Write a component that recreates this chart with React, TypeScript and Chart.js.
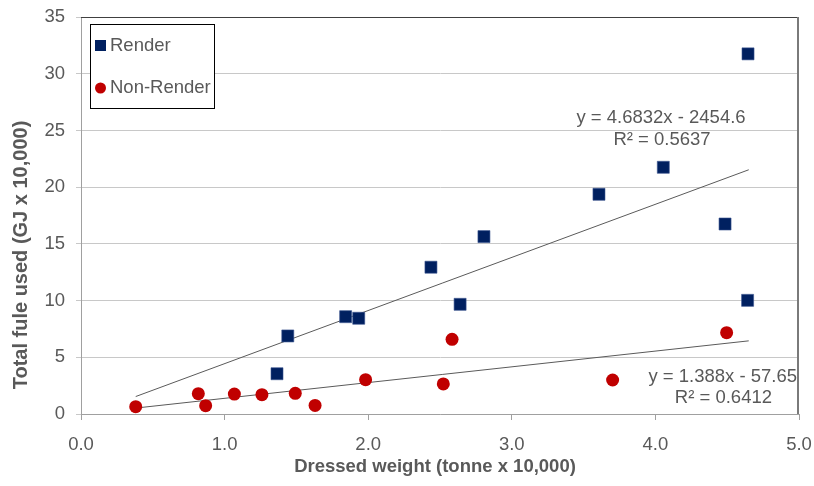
import React, { useEffect, useRef } from "react";
import { Chart, registerables } from "chart.js";

Chart.register(...registerables);

const renderX = [1.365, 1.44, 1.843, 1.934, 2.437, 2.64, 2.806, 3.607, 4.055, 4.485, 4.642, 4.645];
const renderY = [3.55, 6.88, 8.58, 8.44, 12.94, 9.67, 15.64, 19.37, 21.75, 16.75, 10.02, 31.75];
const nonRenderX = [0.381, 0.817, 0.868, 1.068, 1.26, 1.492, 1.63, 1.982, 2.523, 2.584, 3.702, 4.496];
const nonRenderY = [0.65, 1.79, 0.73, 1.76, 1.7, 1.82, 0.76, 3.03, 2.65, 6.58, 3.0, 7.17];

// trendline coefficients (display units: x10,000)
const renderTrend = { slope: 4.6832, intercept: -0.24546 };
const nonRenderTrend = { slope: 1.388, intercept: -0.005765 };
const trendRange = [0.381, 4.65];

const seriesNames = ["Render", "Non-Render"];
const eqLabels = ["y = 4.6832x - 2454.6", "R\u00b2 = 0.5637", "y = 1.388x - 57.65", "R\u00b2 = 0.6412"];
const xTitle = "Dressed weight (tonne x 10,000)";
const yTitle = "Total fule used (GJ x 10,000)";

const NAVY = "#002060";
const RED = "#C00000";
const TEXT = "#595959";
const FONT = "'Liberation Sans', Arial, sans-serif";
const FS = 18.5;

export default function App() {
  const ref = useRef<HTMLCanvasElement>(null);
  useEffect(() => {
    document.body.style.margin = "0";
    const line = (t: { slope: number; intercept: number }) =>
      trendRange.map((x) => ({ x, y: t.slope * x + t.intercept }));

    const overlay = {
      id: "overlay",
      afterDraw(chart: any) {
        const ctx = chart.ctx;
        const a = chart.chartArea;
        ctx.save();
        // top & right border
        ctx.strokeStyle = "#404040";
        ctx.lineWidth = 1;
        ctx.beginPath();
        ctx.moveTo(a.left, a.top + 0.5);
        ctx.lineTo(a.right, a.top + 0.5);
        ctx.stroke();
        ctx.strokeStyle = "#7a7a7a";
        ctx.lineWidth = 2;
        ctx.beginPath();
        ctx.moveTo(a.right - 1, a.top);
        ctx.lineTo(a.right - 1, a.bottom);
        ctx.stroke();
        // legend
        ctx.fillStyle = "#fff";
        ctx.fillRect(90, 24, 124, 84);
        ctx.strokeStyle = "#000";
        ctx.lineWidth = 1;
        ctx.strokeRect(90.5, 24.5, 124, 84);
        ctx.fillStyle = NAVY;
        ctx.fillRect(95, 40, 11, 11);
        ctx.fillStyle = RED;
        ctx.beginPath();
        ctx.arc(100.5, 88, 5.5, 0, Math.PI * 2);
        ctx.fill();
        ctx.fillStyle = TEXT;
        ctx.font = `${FS}px ${FONT}`;
        ctx.textBaseline = "middle";
        ctx.textAlign = "left";
        ctx.fillText(seriesNames[0], 110, 46);
        ctx.fillText(seriesNames[1], 110, 88);
        // equations
        ctx.textAlign = "center";
        ctx.fillText(eqLabels[0], 661, 118);
        ctx.fillText(eqLabels[1], 662, 140);
        ctx.textAlign = "right";
        ctx.fillText(eqLabels[2], 797, 377);
        ctx.fillText(eqLabels[3], 772, 398);
        // axis titles
        ctx.font = `bold ${FS}px ${FONT}`;
        ctx.textAlign = "center";
        ctx.fillText(xTitle, 435, 467);
        ctx.font = `bold 20px ${FONT}`;
        ctx.translate(21, 255);
        ctx.rotate(-Math.PI / 2);
        ctx.fillText(yTitle, 0, 0);
        ctx.restore();
      },
    };

    const chart = new Chart(ref.current!, {
      type: "scatter",
      data: {
        datasets: [
          {
            label: seriesNames[0],
            data: renderX.map((x, i) => ({ x, y: renderY[i] })),
            backgroundColor: NAVY,
            borderColor: "#3a5590",
            pointStyle: "rect",
            pointRadius: 8.5,
            pointBorderWidth: 0.6,
            order: 1,
          },
          {
            label: seriesNames[1],
            data: nonRenderX.map((x, i) => ({ x, y: nonRenderY[i] })),
            backgroundColor: RED,
            borderColor: RED,
            pointStyle: "circle",
            pointRadius: 6.5,
            pointBorderWidth: 0,
            order: 1,
          },
          {
            type: "line",
            label: "t1",
            data: line(renderTrend),
            borderColor: "#5a5a5a",
            borderWidth: 1,
            pointRadius: 0,
            showLine: true,
            order: 2,
          } as any,
          {
            type: "line",
            label: "t2",
            data: line(nonRenderTrend),
            borderColor: "#5a5a5a",
            borderWidth: 1,
            pointRadius: 0,
            showLine: true,
            order: 2,
          } as any,
        ],
      },
      options: {
        animation: false,
        responsive: false,
        layout: { padding: { top: 17, right: 15, left: 0, bottom: 0 } },
        plugins: { legend: { display: false }, tooltip: { enabled: false } },
        scales: {
          x: {
            type: "linear",
            min: 0,
            max: 5,
            ticks: {
              stepSize: 1,
              color: TEXT,
              font: { size: FS, family: FONT },
              padding: 14,
              maxRotation: 0,
              callback: (v: any) => Number(v).toFixed(1),
            },
            grid: { display: true, drawOnChartArea: false, color: "#a0a0a0", tickLength: 6 },
            border: { color: "#a0a0a0" },
            afterFit: (s: any) => {
              s.height = 72;
              s.paddingLeft = 0;
              s.paddingRight = 0;
            },
          },
          y: {
            min: 0,
            max: 35,
            ticks: {
              stepSize: 5,
              color: TEXT,
              font: { size: FS, family: FONT },
              padding: 11,
            },
            grid: { color: "#c8c8c8", tickLength: 5 },
            border: { color: "#a0a0a0" },
            afterFit: (s: any) => {
              s.width = 81;
              s.paddingTop = 0;
              s.paddingBottom = 0;
            },
          },
        },
      },
      plugins: [overlay],
    } as any);
    return () => chart.destroy();
  }, []);
  return <canvas ref={ref} width={814} height={486} style={{ display: "block" }} />;
}
